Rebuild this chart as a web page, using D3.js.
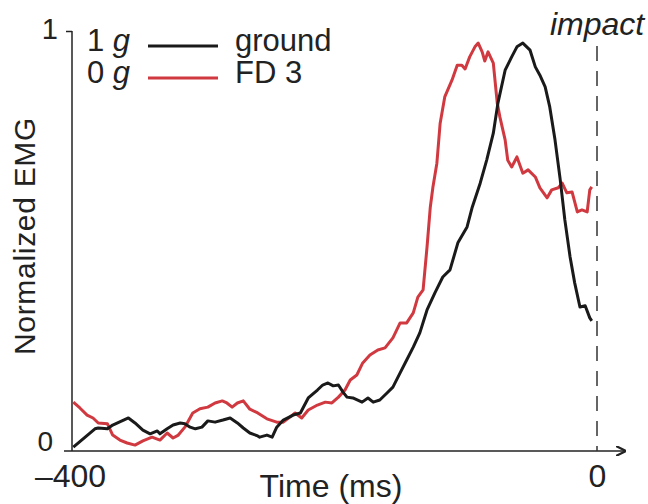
<!DOCTYPE html>
<html>
<head>
<meta charset="utf-8">
<script src="https://cdn.jsdelivr.net/npm/d3@7"></script>
<style>
  body { margin: 0; background: #fff; }
  svg text { font-family: "Liberation Sans", Arial, sans-serif; fill: #222; }
</style>
</head>
<body>
<div id="chart"></div>
<script>
// time (ms before impact) and normalized EMG
var groundTime = [-399, -382.5, -380, -373, -369, -357, -352, -346, -340.5, -335, -333, -327.5, -323, -317.5, -314, -310, -306, -301, -296.5, -291, -285, -279.5, -274, -269.5, -264.5, -258.5, -257, -251.5, -247.5, -244, -239, -231.5, -226, -224, -220, -213, -209, -205, -201, -197, -193.5, -190.5, -186, -179, -174.5, -170.5, -165.5, -160, -155.5, -150, -145, -140, -135, -129.5, -123.5, -117.5, -112, -106, -99, -95, -89, -84, -79, -75.5, -70, -65, -61, -56.5, -51, -47, -43.5, -39.5, -36, -32, -28, -24.5, -20.5, -17, -13, -9, -5.5, -4];
var groundEMG = [0.002, 0.046, 0.048, 0.046, 0.055, 0.072, 0.060, 0.043, 0.034, 0.041, 0.034, 0.046, 0.055, 0.060, 0.058, 0.050, 0.046, 0.050, 0.065, 0.062, 0.067, 0.072, 0.060, 0.048, 0.036, 0.029, 0.026, 0.031, 0.026, 0.050, 0.067, 0.079, 0.084, 0.096, 0.120, 0.139, 0.151, 0.156, 0.149, 0.151, 0.134, 0.122, 0.120, 0.110, 0.120, 0.110, 0.115, 0.132, 0.146, 0.180, 0.211, 0.242, 0.276, 0.331, 0.372, 0.410, 0.427, 0.492, 0.530, 0.578, 0.635, 0.691, 0.755, 0.827, 0.906, 0.938, 0.962, 0.971, 0.954, 0.914, 0.894, 0.866, 0.818, 0.739, 0.643, 0.547, 0.458, 0.396, 0.338, 0.341, 0.312, 0.305];

var fd3Time = [-399, -394, -388.5, -384, -380, -373, -369, -363.5, -358, -352, -346, -339, -333, -327.5, -323, -319, -314, -308, -302.5, -296.5, -291, -285.5, -282, -278, -274, -269.5, -264.5, -258.5, -251.5, -244, -239, -234, -230, -225, -220, -213, -207, -202, -197, -192, -188, -183, -178.5, -173, -167, -161.5, -155.5, -150, -145, -140, -136.5, -132.5, -129.5, -127, -125, -122, -119.5, -116, -110.5, -106.5, -103, -100.5, -97, -93, -90.5, -87.5, -85.5, -83, -79, -76, -74, -70, -68, -65, -61, -56.5, -52.5, -47, -43.5, -38, -34.5, -29.5, -26.5, -23, -19, -15, -11.5, -7.5, -5.5, -4];
var fd3EMG = [0.110, 0.096, 0.079, 0.072, 0.060, 0.058, 0.031, 0.019, 0.012, 0.007, 0.017, 0.026, 0.019, 0.036, 0.024, 0.031, 0.050, 0.084, 0.094, 0.098, 0.108, 0.113, 0.108, 0.098, 0.108, 0.113, 0.093, 0.084, 0.070, 0.062, 0.062, 0.074, 0.084, 0.072, 0.091, 0.103, 0.110, 0.108, 0.122, 0.139, 0.163, 0.175, 0.204, 0.223, 0.235, 0.240, 0.264, 0.300, 0.300, 0.324, 0.362, 0.379, 0.482, 0.578, 0.626, 0.683, 0.779, 0.842, 0.882, 0.918, 0.918, 0.909, 0.938, 0.962, 0.971, 0.950, 0.928, 0.950, 0.923, 0.827, 0.794, 0.739, 0.690, 0.674, 0.698, 0.659, 0.667, 0.650, 0.624, 0.600, 0.619, 0.624, 0.635, 0.612, 0.614, 0.566, 0.571, 0.566, 0.619, 0.626];

var xTicks = [-400, 0];
var yTicks = [0, 1];

var width = 648, height = 504;

var x = d3.scaleLinear().domain([-400, 0]).range([72, 597]);
var y = d3.scaleLinear().domain([0, 1]).range([448, 31]);

var svg = d3.select("#chart").append("svg")
    .attr("width", width)
    .attr("height", height);

// arrow head for the time axis
svg.append("defs").append("marker")
    .attr("id", "arrow")
    .attr("viewBox", "0 0 10 10")
    .attr("refX", 9).attr("refY", 5)
    .attr("markerWidth", 10).attr("markerHeight", 10)
    .attr("markerUnits", "userSpaceOnUse")
    .attr("orient", "auto")
    .append("path")
    .attr("d", "M0,0 L10,5 L0,10")
    .attr("fill", "none")
    .attr("stroke", "#222")
    .attr("stroke-width", 2.2);

// y axis
var yAxis = d3.axisLeft(y).tickValues(yTicks).tickSize(6).tickFormat(d3.format("d"));
var gy = svg.append("g").attr("transform", "translate(72,0)").call(yAxis);
gy.select(".domain").remove();
gy.selectAll(".tick line").attr("stroke", "#222").attr("stroke-width", 1.5)
    .attr("opacity", function(d) { return d == 1 ? 1 : 0; });
gy.selectAll(".tick text").attr("x", -14).attr("y", 0).attr("dy", "0.27em")
    .style("font-size", "29px");
gy.selectAll(".tick").filter(function(d) { return d == 0; })
    .select("text").attr("x", -19).attr("dy", "0.1em").style("font-size", "28px");
svg.append("line")
    .attr("x1", 72).attr("x2", 72)
    .attr("y1", y(1)).attr("y2", 451)
    .attr("stroke", "#222").attr("stroke-width", 1.5);

// x axis
var xAxis = d3.axisBottom(x).tickValues(xTicks).tickSize(0)
    .tickFormat(function(d) { return d == 0 ? "0" : "\u2013" + Math.abs(d); });
var gx = svg.append("g").attr("transform", "translate(0,451)").call(xAxis);
gx.select(".domain").remove();
gx.selectAll(".tick text").attr("y", 36).attr("dy", 0).style("font-size", "32px");
gx.selectAll(".tick").filter(function(d) { return d == -400; })
    .select("text").attr("x", -2);
svg.append("line")
    .attr("x1", 64).attr("x2", 625)
    .attr("y1", 451).attr("y2", 451)
    .attr("stroke", "#222").attr("stroke-width", 1.5)
    .attr("marker-end", "url(#arrow)");

// impact line
svg.append("line")
    .attr("x1", x(0)).attr("x2", x(0))
    .attr("y1", 46).attr("y2", 451)
    .attr("stroke", "#333").attr("stroke-width", 1.5)
    .attr("stroke-dasharray", "15,10");

svg.append("text")
    .attr("x", x(0)).attr("y", 35)
    .attr("text-anchor", "middle")
    .style("font-size", "32px").style("font-style", "italic")
    .text("impact");

// axis titles
svg.append("text")
    .attr("x", 331).attr("y", 497)
    .attr("text-anchor", "middle")
    .style("font-size", "32px")
    .text("Time (ms)");

svg.append("text")
    .attr("transform", "translate(35,236) rotate(-90)")
    .attr("text-anchor", "middle")
    .style("font-size", "30px")
    .style("letter-spacing", "0.7px")
    .text("Normalized EMG");

// curves
var line = d3.line()
    .x(function(d) { return x(d[0]); })
    .y(function(d) { return y(d[1]); });

svg.append("path")
    .datum(d3.zip(fd3Time, fd3EMG))
    .attr("d", line)
    .attr("fill", "none")
    .attr("stroke", "#d0393f")
    .attr("stroke-width", 3)
    .attr("stroke-linejoin", "round");

svg.append("path")
    .datum(d3.zip(groundTime, groundEMG))
    .attr("d", line)
    .attr("fill", "none")
    .attr("stroke", "#1a1a1a")
    .attr("stroke-width", 3)
    .attr("stroke-linejoin", "round");

// legend
var legend = [
    {num: "1", name: "ground", color: "#1a1a1a"},
    {num: "0", name: "FD 3", color: "#d0393f"}
];
var lg = svg.selectAll(".legend").data(legend).enter().append("g")
    .attr("class", "legend")
    .attr("transform", function(d, i) { return "translate(0," + (51 + i * 32) + ")"; });
var lt = lg.append("text").attr("x", 87).attr("y", 0).style("font-size", "31px");
lt.append("tspan").text(function(d) { return d.num + " "; });
lt.append("tspan").style("font-style", "italic").text("g");
lg.append("line")
    .attr("x1", 148).attr("x2", 218)
    .attr("y1", -5).attr("y2", -5)
    .attr("stroke", function(d) { return d.color; })
    .attr("stroke-width", 3);
lg.append("text").attr("x", 235).attr("y", 0)
    .style("font-size", "31px")
    .text(function(d) { return d.name; });
</script>
</body>
</html>
